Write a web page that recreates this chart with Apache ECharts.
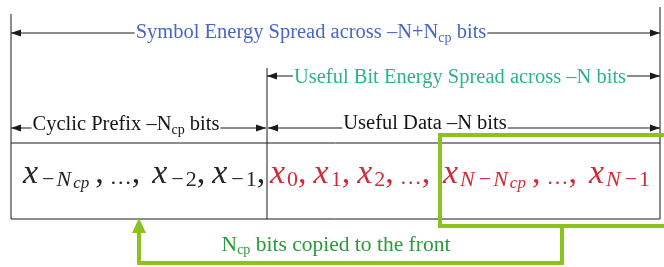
<!DOCTYPE html>
<html>
<head>
<meta charset="utf-8">
<script src="https://cdn.jsdelivr.net/npm/echarts@6/dist/echarts.min.js"></script>
<style>
html, body { margin: 0; padding: 0; background: #fff; }
#chart { width: 664px; height: 267px; }
</style>
</head>
<body>
<div id="chart"></div>
<script>
// texts of the diagram
var spanLabels = [
  'Symbol Energy Spread across –N+N{s|cp} bits',
  'Useful Bit Energy Spread across –N bits',
  'Cyclic Prefix –N{s|cp} bits',
  'Useful Data –N bits'
];
// samples x_{-Ncp} ... x_{N-1}, split in prefix / first data / copied tail
var prefixSamples = '{x|x}{m|−}{n|N}{s|cp}{ca|,}{e|…}{cb|,}{x|x}{m|−}{d|2}{c|,}{x|x}{m|−}{d|1}{c|,}';
var headSamples = '{x|x}{d|0}{c|,}{x|x}{d|1}{c|,}{x|x}{d|2}{ca|,}{e|…}{cb|,}';
var tailSamples = '{x|x}{n|N}{m|−}{n|N}{s|cp}{ca|,}{e|…}{cb|,}{x|x}{n|N}{m|−}{d|1}';
var copyNote = 'N{s|cp} bits copied to the front';

// layout (pixels, the hidden axes map 1:1)
var edgeX = [11, 267, 660];
var edgeTop = [14, 68, 7];
var boxTop = 143, boxBottom = 219;
// [from, to, lineY, labelX, labelY, colour]
var spanLayout = [
  [11, 660, 33, 311, 33, '#4867c5'],
  [267, 660, 76, 460, 78, '#2db38b'],
  [11, 266, 128, 126, 125, '#141414'],
  [268, 660, 128, 425, 124, '#141414']
];
var sampleX = [23, 270, 443];
var sampleY = 174;

var serif = '"Liberation Serif", serif';
var green = '#8cc21e';

var mathRich = {
  x: { font: 'italic 34px ' + serif, padding: [0, 2, 0, 0] },
  m: { font: '22px ' + serif, padding: [13, 2, 0, 2] },
  d: { font: '22px ' + serif, padding: [13, 0, 0, 0] },
  n: { font: 'italic 22px ' + serif, padding: [13, 2, 0, 0] },
  s: { font: 'italic 17px ' + serif, padding: [20, 6, 0, 0] },
  c: { font: '34px ' + serif, padding: [0, 7, 0, 0] },
  ca: { font: '34px ' + serif, padding: [0, 6, 0, 0] },
  cb: { font: '34px ' + serif, padding: [0, 12, 0, 0] },
  e: { font: '22px ' + serif, padding: [8, 0, 0, 0] }
};
var subRich = { s: { font: '14px ' + serif, padding: [10, 0, 0, 0] } };

function head(tip, dir, color, len, half) {
  return {
    type: 'polygon',
    shape: { points: [tip, [tip[0] - dir * len, tip[1] - half], [tip[0] - dir * len, tip[1] + half]] },
    style: { fill: color }
  };
}

function renderDiagram(params, api) {
  var c = function (x, y) { return api.coord([x, y]); };
  var kids = [];
  var ink = '#1a1a1a';

  // frame
  edgeX.forEach(function (x, i) {
    var a = c(x, edgeTop[i]), b = c(x, boxBottom);
    kids.push({ type: 'line', shape: { x1: a[0], y1: a[1], x2: b[0], y2: b[1] }, style: { stroke: ink, lineWidth: 1 } });
  });
  [boxTop, boxBottom].forEach(function (y) {
    var a = c(edgeX[0], y), b = c(edgeX[2], y);
    kids.push({ type: 'line', shape: { x1: a[0], y1: a[1], x2: b[0], y2: b[1] }, style: { stroke: ink, lineWidth: 1 } });
  });

  // dimension arrows
  spanLayout.forEach(function (s, i) {
    var a = c(s[0], s[2]), b = c(s[1], s[2]), t = c(s[3], s[4]);
    kids.push({ type: 'line', shape: { x1: a[0], y1: a[1], x2: b[0], y2: b[1] }, style: { stroke: ink, lineWidth: 1 } });
    kids.push(head(a, -1, ink, 10, 3.5));
    kids.push(head(b, 1, ink, 10, 3.5));
    kids.push({
      type: 'text', x: t[0], y: t[1],
      style: {
        text: spanLabels[i], fill: s[5], font: '20.5px ' + serif,
        align: 'center', verticalAlign: 'middle', rich: subRich,
        backgroundColor: '#fff', padding: [0, 1]
      }
    });
  });

  // samples
  [prefixSamples, headSamples, tailSamples].forEach(function (txt, i) {
    var p = c(sampleX[i], sampleY);
    kids.push({
      type: 'text', x: p[0], y: p[1],
      style: {
        text: txt, fill: i === 0 ? '#262626' : '#cf2c3a', font: '34px ' + serif,
        align: 'left', verticalAlign: 'middle', rich: mathRich
      }
    });
  });

  // copied block and its return path
  var r0 = c(440, 135), r1 = c(680, 226);
  kids.push({ type: 'rect', shape: { x: r0[0], y: r0[1], width: r1[0] - r0[0], height: r1[1] - r0[1] }, style: { fill: 'none', stroke: green, lineWidth: 4 } });
  var path = [c(562, 226), c(562, 263), c(139, 263), c(139, 232)];
  kids.push({ type: 'polyline', shape: { points: path }, style: { fill: 'none', stroke: green, lineWidth: 4 } });
  kids.push({ type: 'polygon', shape: { points: [c(139, 218), c(132, 233), c(146, 233)] }, style: { fill: green } });
  var n = c(336, 245);
  kids.push({
    type: 'text', x: n[0], y: n[1],
    style: {
      text: copyNote, fill: '#2a9a3c', font: '21.5px ' + serif,
      align: 'center', verticalAlign: 'middle', rich: subRich
    }
  });

  return { type: 'group', children: kids };
}

var chart = echarts.init(document.getElementById('chart'));
chart.setOption({
  animation: false,
  grid: { left: 0, right: 0, top: 0, bottom: 0 },
  xAxis: { type: 'value', min: 0, max: 664, show: false },
  yAxis: { type: 'value', min: 0, max: 267, inverse: true, show: false },
  series: [{
    type: 'custom',
    coordinateSystem: 'cartesian2d',
    renderItem: renderDiagram,
    data: [[0, 0]],
    silent: true
  }]
});
window.addEventListener('resize', function () { chart.resize(); });
</script>
</body>
</html>
